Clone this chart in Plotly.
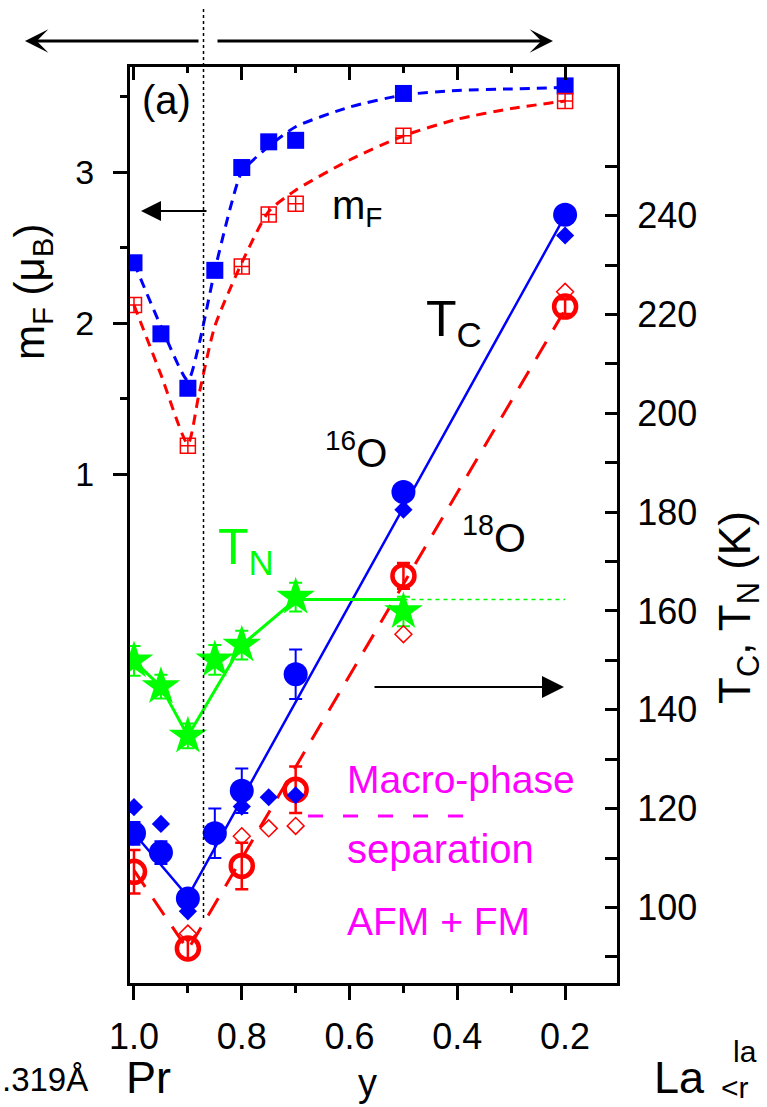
import plotly.graph_objects as go

# ---------------- data ----------------
# magnetic moment m_F (left axis)
mf_y16 = [1.0, 0.95, 0.90, 0.85, 0.80, 0.75, 0.70, 0.50, 0.20]
mf_16 = [2.40, 1.93, 1.57, 2.35, 3.03, 3.20, 3.21, 3.52, 3.57]
mf_y18 = [1.0, 0.90, 0.80, 0.75, 0.70, 0.50, 0.20]
mf_18 = [2.12, 1.19, 2.375, 2.72, 2.79, 3.24, 3.47]
# guide curves for m_F
mf_fit16_x = [1.0, 0.95, 0.90, 0.88, 0.85, 0.82, 0.80, 0.75, 0.70, 0.60, 0.50, 0.40, 0.30, 0.20]
mf_fit16 = [2.40, 1.98, 1.62, 1.85, 2.35, 2.78, 3.00, 3.17, 3.30, 3.43, 3.51, 3.54, 3.55, 3.56]
mf_fit18_x = [1.0, 0.95, 0.90, 0.88, 0.85, 0.80, 0.75, 0.70, 0.60, 0.50, 0.40, 0.30, 0.20]
mf_fit18 = [2.12, 1.66, 1.20, 1.52, 1.98, 2.40, 2.74, 2.88, 3.08, 3.24, 3.35, 3.42, 3.47]

# Curie temperature T_C (right axis)
tc16_y = [1.0, 0.95, 0.90, 0.85, 0.80, 0.70, 0.50, 0.20]
tc16 = [115.0, 111.1, 101.8, 115.0, 123.6, 147.2, 184.1, 240.2]
tc16_err = [2.3, 2.3, 1.0, 5.0, 4.5, 5.0, 1.5, 1.5]
tc16b_y = [1.0, 0.95, 0.90, 0.80, 0.75, 0.70, 0.50, 0.20]
tc16b = [120.3, 116.9, 99.2, 120.4, 122.3, 122.7, 180.5, 236.0]
tc18_y = [1.0, 0.90, 0.80, 0.70, 0.50, 0.20]
tc18 = [107.2, 91.7, 108.4, 123.8, 167.1, 221.6]
tc18_err = [4.4, 2.0, 4.7, 4.7, 2.6, 1.5]
tc18b_y = [1.0, 0.90, 0.80, 0.75, 0.70, 0.50, 0.20]
tc18b = [115.0, 94.7, 114.4, 116.0, 116.5, 155.3, 224.6]
tc16_line_x = [1.0, 0.90, 0.20]
tc16_line = [115.0, 102.2, 240.0]
tc18_line_x = [1.0, 0.90, 0.20]
tc18_line = [107.5, 91.4, 221.0]

# Neel temperature T_N (right axis)
tn_y = [1.0, 0.95, 0.90, 0.85, 0.80, 0.70, 0.50]
tn = [149.9, 144.7, 134.7, 150.1, 153.1, 162.8, 159.9]
tn_err = [3.0, 2.4, 2.5, 3.0, 2.9, 2.9, 3.0]
tn_line_x = [1.0, 0.95, 0.90, 0.80, 0.70, 0.50]
tn_line = [149.9, 144.7, 134.7, 153.1, 162.3, 162.3]
tn_ext_x = [0.50, 0.20]
tn_ext = [162.3, 162.3]

# macro-phase separation marker line
mps_x = [0.677, 0.386]
mps_t = [118.5, 118.5]
boundary_y = 0.871

# axes
x_ticks = [1.0, 0.8, 0.6, 0.4, 0.2]
x_ticktext = ["1.0", "0.8", "0.6", "0.4", "0.2"]
x_minor = [0.9, 0.7, 0.5, 0.3]
mf_ticks = [1, 2, 3]
mf_minor = [1.5, 2.5, 3.5]
t_ticks = list(range(90, 260, 10))
t_ticktext = [str(v) if v % 20 == 0 and 100 <= v <= 240 else "" for v in t_ticks]

BLUE = "#0000ff"
RED = "#ff0000"
GREEN = "#00ff00"
MAG = "#ff00ff"
FONT = "Liberation Sans, Arial, sans-serif"

W, H = 767, 1107
ML, MR, MT, MB = 130, 150, 67, 124
PW, PH = W - ML - MR, H - MT - MB


def px(xp):
    return (xp - ML) / PW


def py(yp):
    return (H - MB - yp) / PH


fig = go.Figure()

# m_F guide curves
fig.add_trace(go.Scatter(x=mf_fit16_x, y=mf_fit16, mode="lines", line=dict(color=BLUE, width=3, dash="10px,7px", shape="spline", smoothing=0.6), yaxis="y", showlegend=False, hoverinfo="skip"))
fig.add_trace(go.Scatter(x=mf_fit18_x, y=mf_fit18, mode="lines", line=dict(color=RED, width=3, dash="10px,7px", shape="spline", smoothing=0.6), yaxis="y", showlegend=False, hoverinfo="skip"))
fig.add_trace(go.Scatter(x=mf_y16, y=mf_16, mode="markers", marker=dict(symbol="square", size=17, color=BLUE), yaxis="y", showlegend=False))
fig.add_trace(go.Scatter(x=mf_y18, y=mf_18, mode="markers", marker=dict(symbol="square-cross-open", size=15, color=RED, line=dict(width=1.5, color=RED)), yaxis="y", showlegend=False))

# temperature lines
fig.add_trace(go.Scatter(x=tc16_line_x, y=tc16_line, mode="lines", line=dict(color=BLUE, width=2.5), yaxis="y2", showlegend=False))
fig.add_trace(go.Scatter(x=tc18_line_x, y=tc18_line, mode="lines", line=dict(color=RED, width=3, dash="20px,14px"), yaxis="y2", showlegend=False))
fig.add_trace(go.Scatter(x=tn_line_x, y=tn_line, mode="lines", line=dict(color=GREEN, width=3), yaxis="y2", showlegend=False))
fig.add_trace(go.Scatter(x=tn_ext_x, y=tn_ext, mode="lines", line=dict(color=GREEN, width=1.5, dash="4px,4px"), yaxis="y2", showlegend=False))
fig.add_trace(go.Scatter(x=mps_x, y=mps_t, mode="lines", line=dict(color=MAG, width=3, dash="15px,20px"), yaxis="y2", showlegend=False))

# temperature markers
fig.add_trace(go.Scatter(x=tn_y, y=tn, mode="markers", marker=dict(symbol="star", size=29, color=GREEN),
                         error_y=dict(type="data", array=tn_err, color=GREEN, thickness=2, width=6.5), yaxis="y2", showlegend=False))
fig.add_trace(go.Scatter(x=tc18b_y, y=tc18b, mode="markers", marker=dict(symbol="diamond-open", size=13, color=RED, line=dict(width=1.5, color=RED)), yaxis="y2", showlegend=False))
fig.add_trace(go.Scatter(x=tc18_y, y=tc18, mode="markers", marker=dict(symbol="circle-open", size=22, color=RED, line=dict(width=4.5, color=RED)),
                         error_y=dict(type="data", array=tc18_err, color=RED, thickness=2.5, width=6.5), yaxis="y2", showlegend=False))
fig.add_trace(go.Scatter(x=tc16b_y, y=tc16b, mode="markers", marker=dict(symbol="diamond", size=14, color=BLUE), yaxis="y2", showlegend=False))
fig.add_trace(go.Scatter(x=tc16_y, y=tc16, mode="markers", marker=dict(symbol="circle", size=24, color=BLUE),
                         error_y=dict(type="data", array=tc16_err, color=BLUE, thickness=2, width=6.5), yaxis="y2", showlegend=False))
# invisible trace to anchor top axis
fig.add_trace(go.Scatter(x=[x_ticks[0]], y=[mf_ticks[0]], xaxis="x2", yaxis="y", mode="markers", marker=dict(opacity=0), showlegend=False, hoverinfo="skip"))

xrange = [1.0074, 0.1037]
fig.update_layout(
    width=W, height=H, margin=dict(l=ML, r=MR, t=MT, b=MB, pad=0),
    paper_bgcolor="white", plot_bgcolor="white",
    font=dict(family=FONT, color="black"),
    showlegend=False,
    xaxis=dict(range=xrange, tickmode="array", tickvals=x_ticks, ticktext=x_ticktext,
               ticks="outside", ticklen=14, tickwidth=3, tickcolor="black",
               minor=dict(tickmode="array", tickvals=x_minor, ticks="outside", ticklen=7, tickwidth=3, tickcolor="black"),
               showline=True, linewidth=3, linecolor="black", showgrid=False, zeroline=False,
               tickfont=dict(size=36, family=FONT), ticklabelstandoff=6),
    xaxis2=dict(range=xrange, overlaying="x", side="top", anchor="y", tickmode="array", tickvals=x_ticks,
                ticks="inside", ticklen=13, tickwidth=3, tickcolor="black", showticklabels=False,
                minor=dict(tickmode="array", tickvals=x_minor, ticks="inside", ticklen=6, tickwidth=3, tickcolor="black"),
                showline=True, linewidth=3, linecolor="black", showgrid=False, zeroline=False),
    yaxis=dict(range=[-2.364, 3.695], tickmode="array", tickvals=mf_ticks, ticks="outside", ticklen=14, tickwidth=3,
               tickcolor="black",
               minor=dict(tickmode="array", tickvals=mf_minor, ticks="outside", ticklen=7, tickwidth=3, tickcolor="black"),
               showline=True, linewidth=3, linecolor="black", showgrid=False, zeroline=False,
               tickfont=dict(size=34, family=FONT), ticklabelstandoff=12),
    yaxis2=dict(range=[84.7, 270.1], overlaying="y", side="right", anchor="x", tickmode="array", tickvals=t_ticks,
                ticktext=t_ticktext, ticks="inside", ticklen=12, tickwidth=3, tickcolor="black",
                showline=True, linewidth=3, linecolor="black", showgrid=False, zeroline=False,
                tickfont=dict(size=36, family=FONT), ticklabelstandoff=10),
)

# phase boundary dotted line
fig.add_shape(type="line", xref="x", yref="paper", x0=boundary_y, x1=boundary_y, y0=py(918), y1=py(8),
              line=dict(color="black", width=1.5, dash="dot"))

ann = []


def text(t, xp, yp, size, color="black", xanchor="left", yanchor="middle", angle=0):
    ann.append(dict(text=t, x=px(xp), y=py(yp), xref="paper", yref="paper", showarrow=False,
                    xanchor=xanchor, yanchor=yanchor, textangle=angle,
                    font=dict(size=size, color=color, family=FONT)))


def arrow(hx, hy, tx, ty, width, size, head):
    ann.append(dict(text="", x=px(hx), y=py(hy), xref="paper", yref="paper", showarrow=True,
                    ax=tx - hx, ay=ty - hy, axref="pixel", ayref="pixel",
                    arrowhead=head, arrowsize=size, arrowwidth=width, arrowcolor="black"))


text("(a)", 140, 100, 40)
text("m<sub>F</sub>", 330, 208, 40)
text("T<sub>C</sub>", 424, 322, 50)
text("<sup>16</sup>O", 323, 450, 40)
text("<sup>18</sup>O", 460, 535, 41)
text("T<sub>N</sub>", 216, 550, 50, color=GREEN)
text("Macro-phase", 345, 779, 39, color=MAG)
text("separation", 345, 849, 40, color=MAG)
text("AFM + FM", 345, 921, 39, color=MAG)
text("m<sub>F</sub> (μ<sub>B</sub>)", 32, 292, 42, xanchor="center", angle=-90)
text("T<sub>C</sub>, T<sub>N</sub> (K)", 738, 608, 44, xanchor="center", angle=-90)
text(".319Å", 0, 1079, 33)
text("Pr", 124, 1077, 45)
text("La", 652, 1077, 45)
text("y", 367, 1083, 38, xanchor="center")
text("la", 731, 1051, 30)
text("&lt;r", 719, 1087, 30)

arrow(25, 41, 200, 41, 3, 1.3, 3)
arrow(553, 41, 216, 41, 3, 1.3, 3)
arrow(141, 211, 208, 211, 2, 2.0, 2)
arrow(564, 687, 373, 687, 2, 2.2, 2)

fig.update_layout(annotations=ann)
fig.write_html("out.html")
